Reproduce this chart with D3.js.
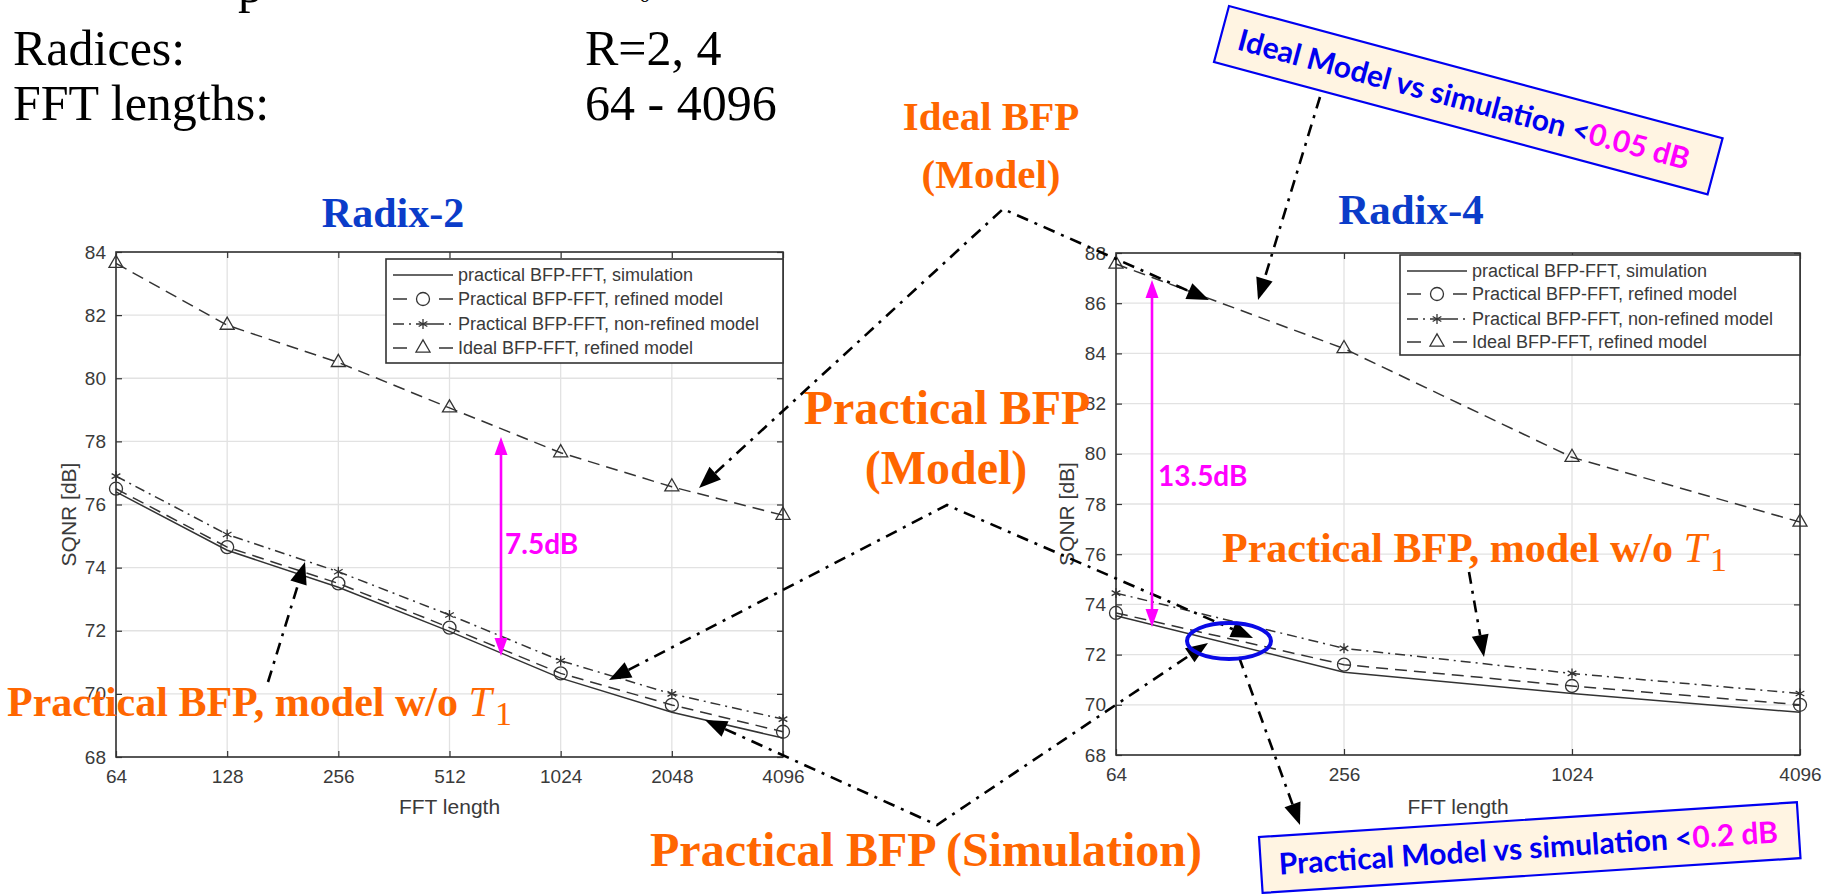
<!DOCTYPE html>
<html><head><meta charset="utf-8">
<script src="https://cdn.jsdelivr.net/npm/d3@7"></script>
<style>body{margin:0;background:#fff;overflow:hidden}svg{display:block}</style>
</head><body><svg id="c" width="1841" height="894"></svg>
<script>
// ---------- data ----------
const r2Lengths = [64, 128, 256, 512, 1024, 2048, 4096];
const r2Sim        = [76.40, 74.55, 73.38, 71.98, 70.50, 69.42, 68.60];
const r2Refined    = [76.50, 74.65, 73.50, 72.10, 70.65, 69.65, 68.80];
const r2NonRefined = [76.90, 75.05, 73.87, 72.50, 71.05, 70.00, 69.20];
const r2Ideal      = [83.64, 81.68, 80.50, 79.06, 77.64, 76.56, 75.66];

const r4Lengths = [64, 256, 1024, 4096];
const r4Sim        = [73.55, 71.30, 70.45, 69.70];
const r4Refined    = [73.66, 71.60, 70.75, 70.00];
const r4NonRefined = [74.45, 72.25, 71.25, 70.45];
const r4Ideal      = [87.56, 84.19, 79.86, 77.28];

const r2YTicks = [68, 70, 72, 74, 76, 78, 80, 82, 84];
const r4YTicks = [68, 70, 72, 74, 76, 78, 80, 82, 84, 86, 88];

const seriesLabels = [
  "practical BFP-FFT, simulation",
  "Practical BFP-FFT, refined model",
  "Practical BFP-FFT, non-refined model",
  "Ideal BFP-FFT, refined model"
];

// ---------- styles ----------
const ORANGE = "#FF6600", BLUE_T = "#0B3CC9", BOXBLUE = "#0000F0", MAG = "#FF00FF";
const AX = "#333333";
const styles = [
  {dash: null, marker: null},
  {dash: "12,7", marker: "circle"},
  {dash: "10,5,2,5", marker: "asterisk"},
  {dash: "12,7", marker: "triangle"}
];

const svg = d3.select("#c");
const gCharts = svg.append("g");
const gText = svg.append("g");
const gArrows = svg.append("g");

function drawMarker(g, type, cx, cy) {
  if (type === "circle") {
    g.append("circle").attr("cx", cx).attr("cy", cy).attr("r", 6.5)
      .attr("fill", "none").attr("stroke", AX).attr("stroke-width", 1.3);
  } else if (type === "triangle") {
    g.append("path").attr("d", d3.symbol(d3.symbolTriangle, 85)())
      .attr("transform", `translate(${cx},${cy})`)
      .attr("fill", "none").attr("stroke", AX).attr("stroke-width", 1.3);
  } else if (type === "asterisk") {
    g.append("path").attr("d", d3.symbol(d3.symbolAsterisk, 70)())
      .attr("transform", `translate(${cx},${cy})`)
      .attr("fill", "none").attr("stroke", AX).attr("stroke-width", 1.3);
  }
}

function drawChart(c) {
  const g = gCharts.append("g");
  const x = d3.scaleLog().base(2).domain([64, 4096]).range([c.x0, c.x1]);
  const y = d3.scaleLinear().domain(c.yDomain).range([c.y1, c.y0]);

  g.append("g").selectAll("line").data(c.xTicks).join("line")
    .attr("x1", d => x(d)).attr("x2", d => x(d)).attr("y1", c.y0).attr("y2", c.y1)
    .attr("stroke", "#e2e2e2").attr("stroke-width", 1.3);
  g.append("g").selectAll("line").data(c.yTicks).join("line")
    .attr("x1", c.x0).attr("x2", c.x1).attr("y1", d => y(d)).attr("y2", d => y(d))
    .attr("stroke", "#e2e2e2").attr("stroke-width", 1.3);

  const addAxis = (axis, tx, ty) => g.append("g").attr("transform", `translate(${tx},${ty})`)
    .call(axis).call(s => s.select(".domain").remove());
  addAxis(d3.axisBottom(x).tickValues(c.xTicks).tickFormat(d3.format("d")).tickSizeInner(-6).tickSizeOuter(0).tickPadding(13), 0, c.y1);
  addAxis(d3.axisTop(x).tickValues(c.xTicks).tickFormat("").tickSizeInner(-6).tickSizeOuter(0), 0, c.y0);
  addAxis(d3.axisLeft(y).tickValues(c.yTicks).tickFormat(d3.format("d")).tickSizeInner(-6).tickSizeOuter(0).tickPadding(10), c.x0, 0);
  addAxis(d3.axisRight(y).tickValues(c.yTicks).tickFormat("").tickSizeInner(-6).tickSizeOuter(0), c.x1, 0);
  g.selectAll(".tick text").attr("font-family", "Liberation Sans, Arial, sans-serif")
    .attr("font-size", 19).attr("fill", "#3a3a3a");
  g.selectAll(".tick line").attr("stroke", AX).attr("stroke-width", 1.2);

  const series = [c.sim, c.refined, c.nonRefined, c.ideal];
  const line = d3.line().x(d => x(d[0])).y(d => y(d[1]));
  series.forEach((vals, i) => {
    const pts = c.lengths.map((n, k) => [n, vals[k]]);
    g.append("path").attr("d", line(pts)).attr("fill", "none")
      .attr("stroke", AX).attr("stroke-width", 1.5)
      .attr("stroke-dasharray", styles[i].dash);
    if (styles[i].marker) pts.forEach(p => drawMarker(g, styles[i].marker, x(p[0]), y(p[1])));
  });

  g.append("rect").attr("x", c.x0).attr("y", c.y0).attr("width", c.x1 - c.x0).attr("height", c.y1 - c.y0)
    .attr("fill", "none").attr("stroke", AX).attr("stroke-width", 1.6);

  g.append("text").attr("x", (c.x0 + c.x1) / 2).attr("y", 814).attr("text-anchor", "middle")
    .attr("font-family", "Liberation Sans, Arial, sans-serif").attr("font-size", 21).attr("fill", "#3a3a3a")
    .text("FFT length");
  g.append("text").attr("transform", `translate(${c.ylabX},${(c.y0 + c.y1) / 2 + 10}) rotate(-90)`)
    .attr("text-anchor", "middle").attr("dominant-baseline", "central")
    .attr("font-family", "Liberation Sans, Arial, sans-serif").attr("font-size", 21).attr("fill", "#3a3a3a")
    .text("SQNR [dB]");

  const L = c.legend;
  const lg = g.append("g");
  lg.append("rect").attr("x", L.x).attr("y", L.y).attr("width", L.w).attr("height", L.h)
    .attr("fill", "#fff").attr("stroke", AX).attr("stroke-width", 1.6);
  seriesLabels.forEach((lab, i) => {
    const ry = L.y + L.rows[i];
    const lx0 = L.x + 7, lx1 = L.x + 67;
    if (styles[i].dash === null) {
      lg.append("line").attr("x1", lx0).attr("x2", lx1).attr("y1", ry).attr("y2", ry)
        .attr("stroke", AX).attr("stroke-width", 1.5);
    } else if (i === 2) {
      lg.append("line").attr("x1", lx0).attr("x2", lx1).attr("y1", ry).attr("y2", ry)
        .attr("stroke", AX).attr("stroke-width", 1.5).attr("stroke-dasharray", "11,5,2,5,28,5,2,5,11");
    } else {
      lg.append("line").attr("x1", lx0).attr("x2", lx1).attr("y1", ry).attr("y2", ry)
        .attr("stroke", AX).attr("stroke-width", 1.5).attr("stroke-dasharray", "14,32,14");
    }
    if (styles[i].marker) drawMarker(lg, styles[i].marker, (lx0 + lx1) / 2, ry);
    lg.append("text").attr("x", L.x + 72).attr("y", ry).attr("dominant-baseline", "central")
      .attr("font-family", "Liberation Sans, Arial, sans-serif").attr("font-size", 18).attr("fill", "#3a3a3a")
      .text(lab);
  });
}

drawChart({
  x0: 116, x1: 783, y0: 252, y1: 757, yDomain: [68, 84], yTicks: r2YTicks, xTicks: r2Lengths,
  lengths: r2Lengths, sim: r2Sim, refined: r2Refined, nonRefined: r2NonRefined, ideal: r2Ideal,
  ylabX: 68,
  legend: {x: 386, y: 259, w: 397, h: 104, rows: [16, 40, 65, 89]}
});
drawChart({
  x0: 1116, x1: 1800, y0: 253, y1: 755, yDomain: [68, 88], yTicks: r4YTicks, xTicks: r4Lengths,
  lengths: r4Lengths, sim: r4Sim, refined: r4Refined, nonRefined: r4NonRefined, ideal: r4Ideal,
  ylabX: 1066,
  legend: {x: 1400, y: 255, w: 400, h: 100, rows: [16, 39, 64, 87]}
});

// ---------- slide text ----------
const serif = "Liberation Serif, Times New Roman, serif";
function stext(x, y, str, size, opts = {}) {
  return gText.append("text").attr("x", x).attr("y", y).attr("font-family", serif)
    .attr("font-size", size).attr("fill", opts.fill || "#000")
    .attr("font-weight", opts.bold ? "bold" : "normal")
    .attr("text-anchor", opts.anchor || "start").text(str);
}
// clipped line at very top
stext(238, 2, "p", 50);
{
  const t = gText.append("text").attr("font-family", serif).attr("font-size", 50)
    .attr("x", 598).attr("y", -18);
  t.append("tspan").text("σ");
  t.append("tspan").attr("font-style", "italic").attr("font-size", 32).attr("dy", 12).text("x");
  t.append("tspan").attr("font-size", 22).attr("dy", 8).text("0");
}
stext(13, 65, "Radices:", 50);
stext(585, 65, "R=2, 4", 50);
stext(13, 120, "FFT lengths:", 50);
stext(585, 120, "64 - 4096", 50);

stext(393, 227, "Radix-2", 42, {bold: true, fill: BLUE_T, anchor: "middle"});
stext(1411, 224, "Radix-4", 43, {bold: true, fill: BLUE_T, anchor: "middle"});

stext(991, 130, "Ideal BFP", 41, {bold: true, fill: ORANGE, anchor: "middle"});
stext(991, 188, "(Model)", 41, {bold: true, fill: ORANGE, anchor: "middle"});
stext(947, 424, "Practical BFP", 48, {bold: true, fill: ORANGE, anchor: "middle"});
stext(946, 484, "(Model)", 48, {bold: true, fill: ORANGE, anchor: "middle"});
stext(650, 866, "Practical BFP (Simulation)", 48, {bold: true, fill: ORANGE});

function woLabel(x, y) {
  const t = gText.append("text").attr("x", x).attr("y", y).attr("font-family", serif)
    .attr("font-size", 42).attr("font-weight", "bold").attr("fill", ORANGE);
  t.append("tspan").text("Practical BFP, model w/o ");
  t.append("tspan").attr("font-style", "italic").attr("font-weight", "normal").text("T");
  t.append("tspan").attr("font-weight", "normal").attr("font-size", 34).attr("dy", 9).attr("dx", 3).text("1");
}
woLabel(7, 716);
woLabel(1222, 562);

// ---------- arrows ----------
function head(g, tip, from, len, w, color) {
  const a = Math.atan2(tip[1] - from[1], tip[0] - from[0]);
  const bx = tip[0] - len * Math.cos(a), by = tip[1] - len * Math.sin(a);
  const px = -Math.sin(a) * w / 2, py = Math.cos(a) * w / 2;
  g.append("polygon").attr("points", `${tip[0]},${tip[1]} ${bx + px},${by + py} ${bx - px},${by - py}`)
    .attr("fill", color);
  return [bx, by];
}
function dashArrow(pts, headStart, headEnd) {
  const p = pts.map(d => d.slice());
  if (headEnd) p[p.length - 1] = head(gArrows, pts[pts.length - 1], pts[pts.length - 2], 22, 17, "#000");
  if (headStart) p[0] = head(gArrows, pts[0], pts[1], 22, 17, "#000");
  gArrows.append("path").attr("d", d3.line()(p)).attr("fill", "none").attr("stroke", "#000")
    .attr("stroke-width", 2.6).attr("stroke-dasharray", "12,7,3,7");
}
dashArrow([[699, 488], [1003, 209], [1209, 300]], true, true);
dashArrow([[609, 680], [947, 505], [1253, 638]], true, true);
dashArrow([[705, 720], [937, 825], [1208, 643]], true, true);
dashArrow([[268, 682], [305, 562]], false, true);
dashArrow([[1469, 572], [1484, 657]], false, true);
dashArrow([[1320, 97], [1258, 300]], false, true);
dashArrow([[1239, 657], [1300, 825]], false, true);

function magArrow(x, yTop, yBot) {
  const a = head(gArrows, [x, yTop], [x, yBot], 18, 13, MAG);
  const b = head(gArrows, [x, yBot], [x, yTop], 18, 13, MAG);
  gArrows.append("line").attr("x1", x).attr("x2", x).attr("y1", a[1]).attr("y2", b[1])
    .attr("stroke", MAG).attr("stroke-width", 2.6);
}
magArrow(501, 437, 656);
magArrow(1152, 280, 627);
const sans = "Lato, Open Sans, sans-serif";
gArrows.append("text").attr("x", 505).attr("y", 554).attr("font-family", sans).attr("font-weight", "bold")
  .attr("font-size", 28).attr("fill", MAG).text("7.5dB");
gArrows.append("text").attr("x", 1158).attr("y", 486).attr("font-family", sans).attr("font-weight", "bold")
  .attr("font-size", 28).attr("fill", MAG).text("13.5dB");

gArrows.append("ellipse").attr("cx", 1229).attr("cy", 641).attr("rx", 42).attr("ry", 18)
  .attr("fill", "none").attr("stroke", "#0A0AE6").attr("stroke-width", 4);

function noteBox(tx, ty, rot, w, h, main, hi) {
  const g = gArrows.append("g").attr("transform", `translate(${tx},${ty}) rotate(${rot})`);
  g.append("rect").attr("width", w).attr("height", h).attr("fill", "#FFF4E2")
    .attr("stroke", BOXBLUE).attr("stroke-width", 2.2);
  const t = g.append("text").attr("x", 18).attr("y", h / 2 + 11).attr("font-family", sans)
    .attr("font-weight", "bold").attr("font-size", 30);
  t.append("tspan").attr("fill", BOXBLUE).text(main);
  t.append("tspan").attr("fill", MAG).text(hi);
}
noteBox(1229, 6, 15, 511, 58, "Ideal Model vs simulation <", "0.05 dB");
noteBox(1259, 837, -3.7, 539, 56, "Practical Model vs simulation <", "0.2 dB");
</script></body></html>
